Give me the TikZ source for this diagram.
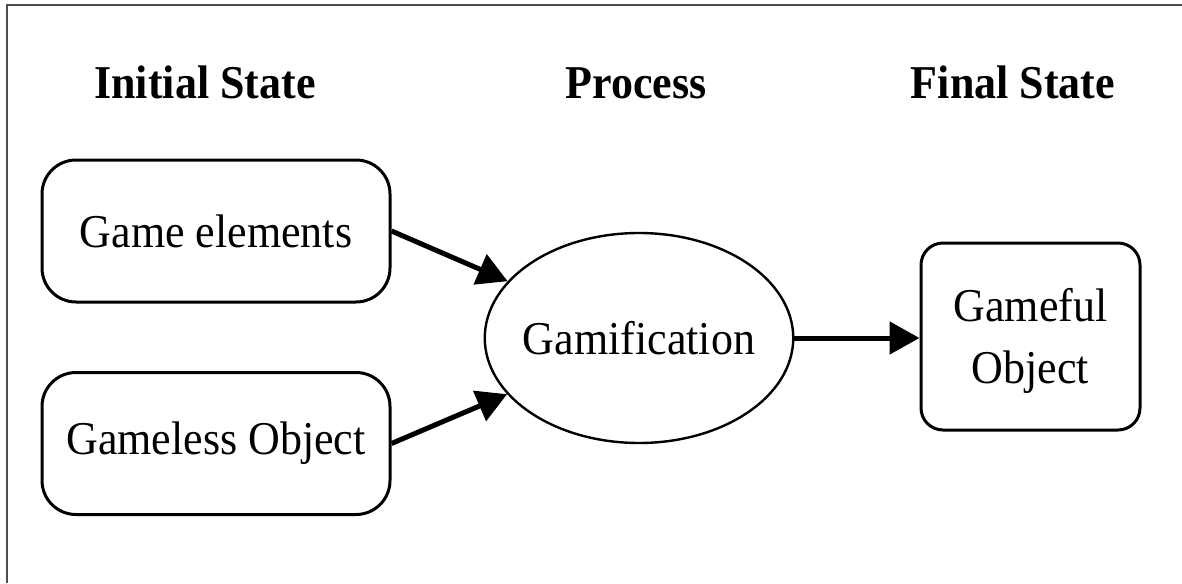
\documentclass[tikz,border=0pt]{standalone}
\usepackage{fontspec}
\setmainfont{Liberation Serif}
\usetikzlibrary{arrows.meta,shapes.geometric}
\newcommand\tallt[1]{\scalebox{1}[1.07]{#1}}
\begin{document}
\begin{tikzpicture}[x=0.5pt,y=-0.5pt,
  title/.style={font=\fontsize{22}{26}\selectfont\bfseries, anchor=base, inner sep=0pt},
  rbox/.style={draw, line width=1.5pt, rounded corners=17pt, minimum width=174pt, minimum height=71pt, inner sep=0pt, font=\fontsize{22}{26}\selectfont},
  fbox/.style={draw, line width=1.5pt, rounded corners=11pt, minimum width=109.5pt, minimum height=93.5pt, inner sep=0pt},
  ftext/.style={align=center, inner sep=0pt, font=\fontsize{22}{31}\selectfont},
  ebox/.style={draw, ellipse, line width=1.2pt, minimum height=105pt, inner xsep=-3.5pt, inner ysep=0pt, font=\fontsize{22}{26}\selectfont},
  arr/.style={line width=2.5pt, -{Triangle[length=15pt,width=16pt]}}
]
\useasboundingbox (0,0) rectangle (1182,583);
\draw[line width=1pt, black!70] (7,583) -- (7,5) -- (1182,5);
\node[title] (t1) at (205,98) {\tallt{Initial State}};
\node[title] (t2) at (636,98) {\tallt{Process}};
\node[title] (t3) at (1013,98) {\tallt{Final State}};
\node[rbox] (ge) at (216,231) {\tallt{Game elements}};
\node[rbox] (go) at (216,443.5) {\tallt{Gameless Object}};
\node[ebox] (gam) at (639,338) {\tallt{Gamification}};
\node[fbox] (gf) at (1030.5,336.5) {};
\node[ftext] (gft) at (1030.5,341) {\tallt{Gameful}\\\tallt{Object}};
\draw[arr] (ge.east) -- (gam);
\draw[arr] (go.east) -- (gam);
\draw[arr] (gam.east) -- (gf.west |- gam.east);
\end{tikzpicture}
\end{document}
